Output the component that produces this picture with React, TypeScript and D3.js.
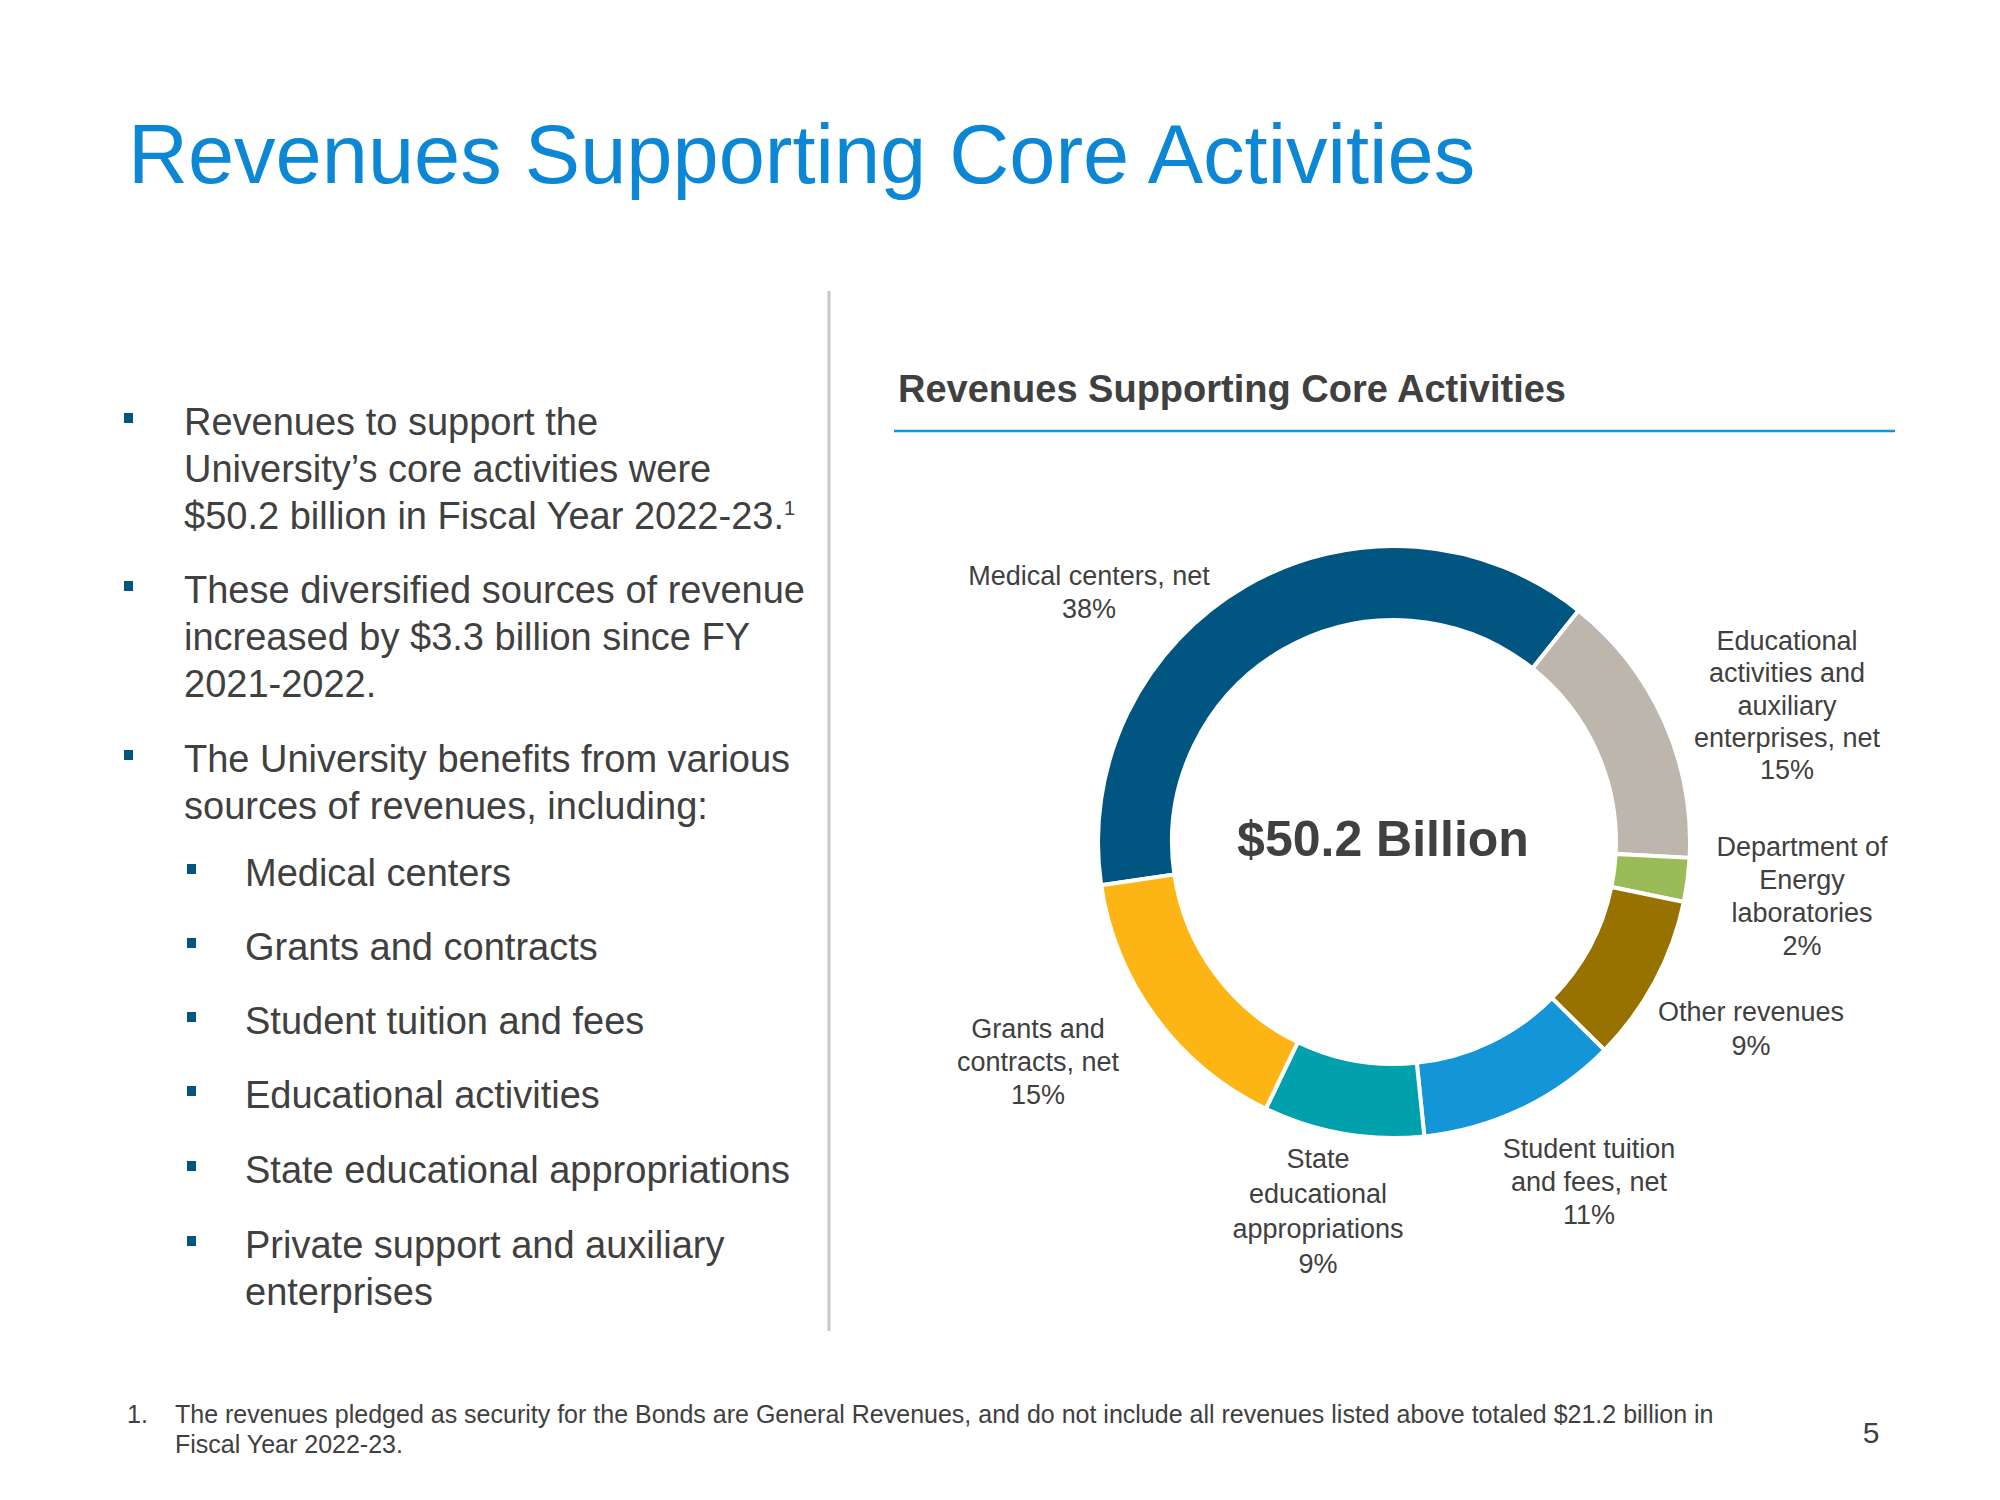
import React from "react";
import * as d3 from "d3";

const categories = [
  "Medical centers, net",
  "Educational activities and auxiliary enterprises, net",
  "Department of Energy laboratories",
  "Other revenues",
  "Student tuition and fees, net",
  "State educational appropriations",
  "Grants and contracts, net",
];
const valuesBillion = [19.1, 7.6, 1.2, 4.6, 5.5, 4.4, 7.8];
const pctLabels = ["38%", "15%", "2%", "9%", "11%", "9%", "15%"];
const labelLines = [
  ["Medical centers, net", "38%"],
  ["Educational", "activities and", "auxiliary", "enterprises, net", "15%"],
  ["Department of", "Energy", "laboratories", "2%"],
  ["Other revenues", "9%"],
  ["Student tuition", "and fees, net", "11%"],
  ["State", "educational", "appropriations", "9%"],
  ["Grants and", "contracts, net", "15%"],
];
const sliceColors = ["#005581", "#BCB6AC", "#9BBB59", "#987200", "#1395D8", "#00A1AD", "#FDB515"];
const totalLabel = "$50.2 Billion";

const mainBullets = [
  ["Revenues to support the", "University\u2019s core activities were", "$50.2 billion in Fiscal Year 2022-23."],
  ["These diversified sources of revenue", "increased by $3.3 billion since FY", "2021-2022."],
  ["The University benefits from various", "sources of revenues, including:"],
];
const subBullets = [
  ["Medical centers"],
  ["Grants and contracts"],
  ["Student tuition and fees"],
  ["Educational activities"],
  ["State educational appropriations"],
  ["Private support and auxiliary", "enterprises"],
];

// layout (positions kept separate from data)
const labelPos = [
  { x: 1089, y: 585, dy: 33 },
  { x: 1787, y: 650, dy: 32.3 },
  { x: 1802, y: 856, dy: 33 },
  { x: 1751, y: 1021, dy: 34 },
  { x: 1589, y: 1158, dy: 33 },
  { x: 1318, y: 1168, dy: 35 },
  { x: 1038, y: 1038, dy: 33 },
];
const mainBulletY = [435, 603, 772];
const subBulletY = [886, 960, 1034, 1108, 1183, 1258];

const TEXT = "#404040";
const FONT = "'Liberation Sans', Arial, Helvetica, sans-serif";

export default function App() {
  const cx = 1394;
  const cy = 842;
  const rOuter = 296;
  const rInner = 222;
  const start = (-98.4 * Math.PI) / 180;
  const pie = d3
    .pie<number>()
    .sort(null)
    .value((d) => d)
    .startAngle(start)
    .endAngle(start + 2 * Math.PI);
  const arcs = pie(valuesBillion);
  const arc = d3.arc<d3.PieArcDatum<number>>().innerRadius(rInner).outerRadius(rOuter);

  return (
    <svg
      width={2000}
      height={1500}
      viewBox="0 0 2000 1500"
      style={{ position: "absolute", left: 0, top: 0, background: "#fff" }}
      fontFamily={FONT}
    >
      <rect width={2000} height={1500} fill="#fff" />
      <text x={128} y={183} fontSize={83} fill="#0B87D6">
        Revenues Supporting Core Activities
      </text>

      {/* left bullets */}
      {mainBullets.map((lines, i) => (
        <g key={"mb" + i}>
          <rect x={124} y={mainBulletY[i] - 22} width={9} height={10} fill="#005581" />
          {lines.map((ln, j) => (
            <text key={j} x={184} y={mainBulletY[i] + j * 47} fontSize={38} fill={TEXT}>
              {ln}
              {i === 0 && j === 2 ? (
                <tspan fontSize={20} dy={-14}>
                  1
                </tspan>
              ) : null}
            </text>
          ))}
        </g>
      ))}
      {subBullets.map((lines, i) => (
        <g key={"sb" + i}>
          <rect x={187} y={subBulletY[i] - 22} width={9} height={10} fill="#005581" />
          {lines.map((ln, j) => (
            <text key={j} x={245} y={subBulletY[i] + j * 47} fontSize={38} fill={TEXT}>
              {ln}
            </text>
          ))}
        </g>
      ))}

      {/* divider */}
      <line x1={829} x2={829} y1={291} y2={1331} stroke="#C8C8C8" strokeWidth={3} />

      {/* chart title */}
      <text x={898} y={402} fontSize={38} fontWeight="bold" fill={TEXT}>
        Revenues Supporting Core Activities
      </text>
      <line x1={894} x2={1895} y1={431} y2={431} stroke="#1295D8" strokeWidth={2.5} />

      {/* donut */}
      <g transform={`translate(${cx},${cy})`}>
        {arcs.map((a, i) => (
          <path
            key={categories[i]}
            d={arc(a) || ""}
            fill={sliceColors[i]}
            stroke="#fff"
            strokeWidth={4}
            strokeLinejoin="miter"
          >
            <title>{`${categories[i]} ${pctLabels[i]}`}</title>
          </path>
        ))}
      </g>
      <text x={1383} y={856} fontSize={50} fontWeight="bold" textAnchor="middle" fill={TEXT}>
        {totalLabel}
      </text>

      {labelLines.map((lines, i) => (
        <text key={"lbl" + i} fontSize={27} fill={TEXT} textAnchor="middle">
          {lines.map((ln, j) => (
            <tspan key={j} x={labelPos[i].x} y={labelPos[i].y + j * labelPos[i].dy}>
              {ln}
            </tspan>
          ))}
        </text>
      ))}

      {/* footnote */}
      <text x={127} y={1423} fontSize={25} fill={TEXT}>
        1.
      </text>
      <text x={175} y={1423} fontSize={25} fill={TEXT}>
        The revenues pledged as security for the Bonds are General Revenues, and do not include all revenues listed above totaled $21.2 billion in
      </text>
      <text x={175} y={1453} fontSize={25} fill={TEXT}>
        Fiscal Year 2022-23.
      </text>
      <text x={1871} y={1443} fontSize={30} fill={TEXT} textAnchor="middle">
        5
      </text>
    </svg>
  );
}
